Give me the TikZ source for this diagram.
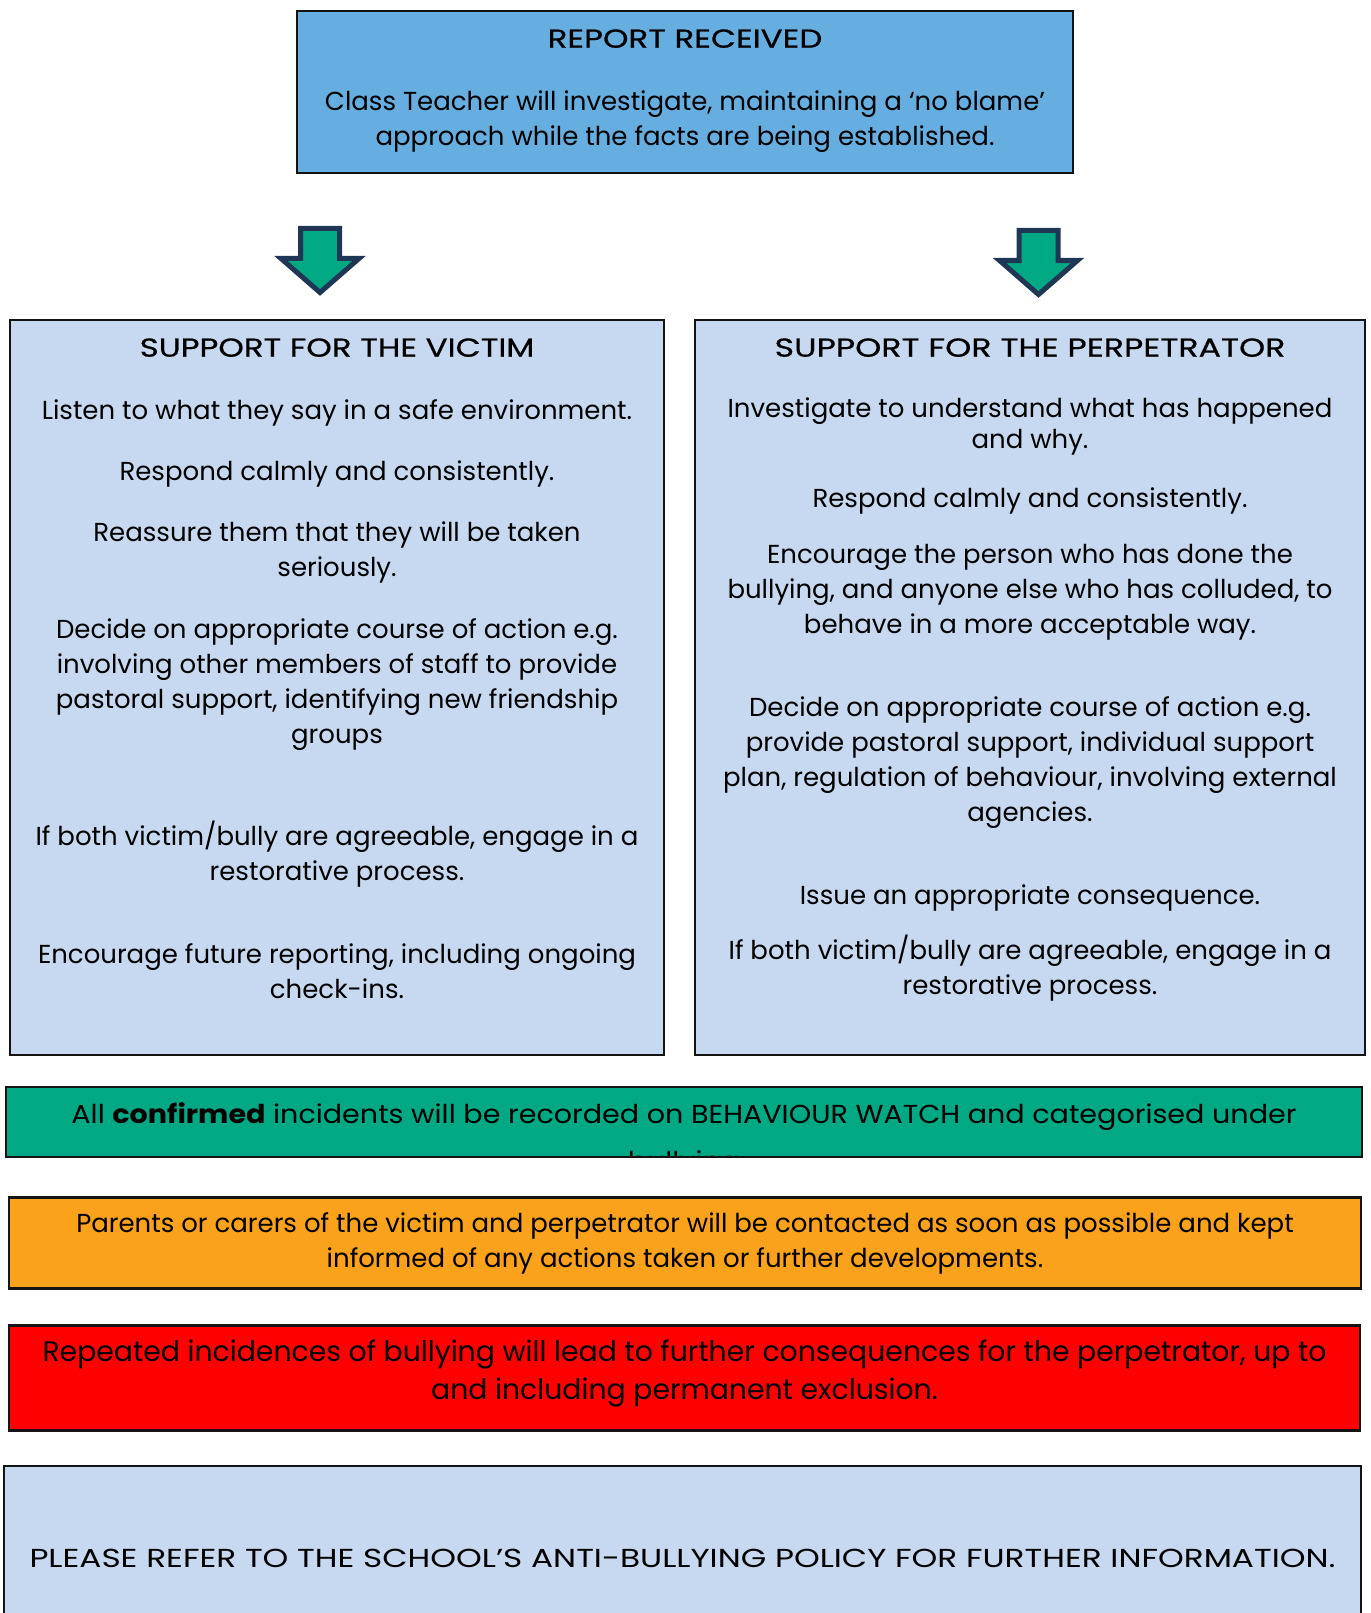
\documentclass[tikz,border=0pt]{standalone}
\usepackage{fontspec}
\setmainfont{Poppins}
\newfontfamily\capsfont[FakeStretch=1.26]{Poppins}
\newfontfamily\titlefont[FakeStretch=1.25, FakeBold=0.6]{Poppins}
\newfontfamily\barfont[FakeStretch=1.1]{Poppins}
\definecolor{topblue}{RGB}{102,174,224}
\definecolor{paleblue}{RGB}{198,217,240}
\definecolor{barGreen}{RGB}{0,168,132}
\definecolor{barOrange}{RGB}{250,162,27}
\definecolor{barRed}{RGB}{255,0,0}
\definecolor{arrowNavy}{RGB}{31,54,84}
\definecolor{edge}{RGB}{20,20,20}
\newcommand\bodyfont{\fontsize{26}{35}\selectfont}
\begin{document}
\begin{tikzpicture}[x=1pt,y=-1pt,
  box/.style={draw=edge, line width=2.2pt, inner sep=0pt},
  txt/.style={anchor=north, inner sep=0pt, align=center, font=\bodyfont},
  captxt/.style={txt, font=\capsfont\bodyfont},
  titletxt/.style={txt, font=\titlefont\bodyfont},
  downarrow/.pic={\draw[arrowNavy, line width=5pt, fill=barGreen, line join=miter]
     (-19.5,0) -- (19.5,0) -- (19.5,30) -- (39,30) -- (0,64) -- (-39,30) -- (-19.5,30) -- cycle;}]
\useasboundingbox (0,0) rectangle (1370,1613);

% boxes
\node[box, fill=topblue, minimum width=776pt, minimum height=162pt] (report) at (685,92) {};
\node[box, fill=paleblue, minimum width=654pt, minimum height=735pt] (victim) at (337,687.5) {};
\node[box, fill=paleblue, minimum width=670pt, minimum height=735pt] (perp) at (1030,687.5) {};
\node[fill=barGreen, inner sep=0pt, minimum width=1356pt, minimum height=69pt] (record) at (684,1122) {};
\node[box, fill=barOrange, minimum width=1352pt, minimum height=91pt] (parents) at (685,1243) {};
\node[box, fill=barRed, minimum width=1351pt, minimum height=105pt] (repeat) at (684.5,1378) {};
\node[box, fill=paleblue, minimum width=1357pt, minimum height=174pt] (policy) at (682.5,1553) {};

% arrows
\pic at (320,228.5) {downarrow};
\pic at (1038.5,230.5) {downarrow};

% report text
\node[titletxt] (reportT) at (685,23) {\strut REPORT RECEIVED};
\node[txt] (reportB) at (685,85.5) {\strut Class Teacher will investigate, maintaining a ‘no blame’\\approach while the facts are being established.};

% victim
\node[titletxt] (vT) at (337,332) {\strut SUPPORT FOR THE VICTIM};
\node[txt] (v1) at (337,394.5) {\strut Listen to what they say in a safe environment.};
\node[txt] (v2) at (337,455.5) {\strut Respond calmly and consistently.};
\node[txt] (v3) at (337,516.5) {\strut Reassure them that they will be taken\\seriously.};
\node[txt] (v4) at (337,613.5) {\strut Decide on appropriate course of action e.g.\\involving other members of staff to provide\\pastoral support, identifying new friendship\\groups};
\node[txt] (v5) at (337,820.5) {\strut If both victim/bully are agreeable, engage in a\\restorative process.};
\node[txt] (v6) at (337,938.5) {\strut Encourage future reporting, including ongoing\\check-ins.};

% perpetrator
\node[titletxt, font=\titlefont\addfontfeature{FakeStretch=1.28}\bodyfont] (pT) at (1030,332) {\strut SUPPORT FOR THE PERPETRATOR};
\node[txt, font=\fontsize{26}{31}\selectfont] (p1) at (1030,396) {\strut Investigate to understand what has happened\\and why.};
\node[txt] (p2) at (1030,483) {\strut Respond calmly and consistently.};
\node[txt] (p3) at (1030,538.5) {\strut Encourage the person who has done the\\bullying, and anyone else who has colluded, to\\behave in a more acceptable way.};
\node[txt] (p4) at (1030,691.5) {\strut Decide on appropriate course of action e.g.\\provide pastoral support, individual support\\plan, regulation of behaviour, involving external\\agencies.};
\node[txt] (p5) at (1030,879.5) {\strut Issue an appropriate consequence.};
\node[txt] (p6) at (1030,934.5) {\strut If both victim/bully are agreeable, engage in a\\restorative process.};

% green bar text (second line clipped)
\begin{scope}
  \clip (record.north west) rectangle (record.south east);
  \node[txt, font=\barfont\bodyfont] (recordT) at (684,1098.5) {\strut All \textbf{confirmed} incidents will be recorded on BEHAVIOUR WATCH and categorised under\\[12pt]bullying};
\end{scope}
\draw[edge, line width=2.2pt] (record.north west) rectangle (record.south east);

\node[txt] (parentsT) at (685,1207.5) {\strut Parents or carers of the victim and perpetrator will be contacted as soon as possible and kept\\informed of any actions taken or further developments.};
\node[txt, font=\fontsize{28.3}{38}\selectfont] (repeatT) at (684.5,1335) {\strut Repeated incidences of bullying will lead to further consequences for the perpetrator, up to\\and including permanent exclusion.};
\node[captxt] (policyT) at (682.5,1542.5) {\strut PLEASE REFER TO THE SCHOOL’S ANTI-BULLYING POLICY FOR FURTHER INFORMATION.};
\end{tikzpicture}
\end{document}
